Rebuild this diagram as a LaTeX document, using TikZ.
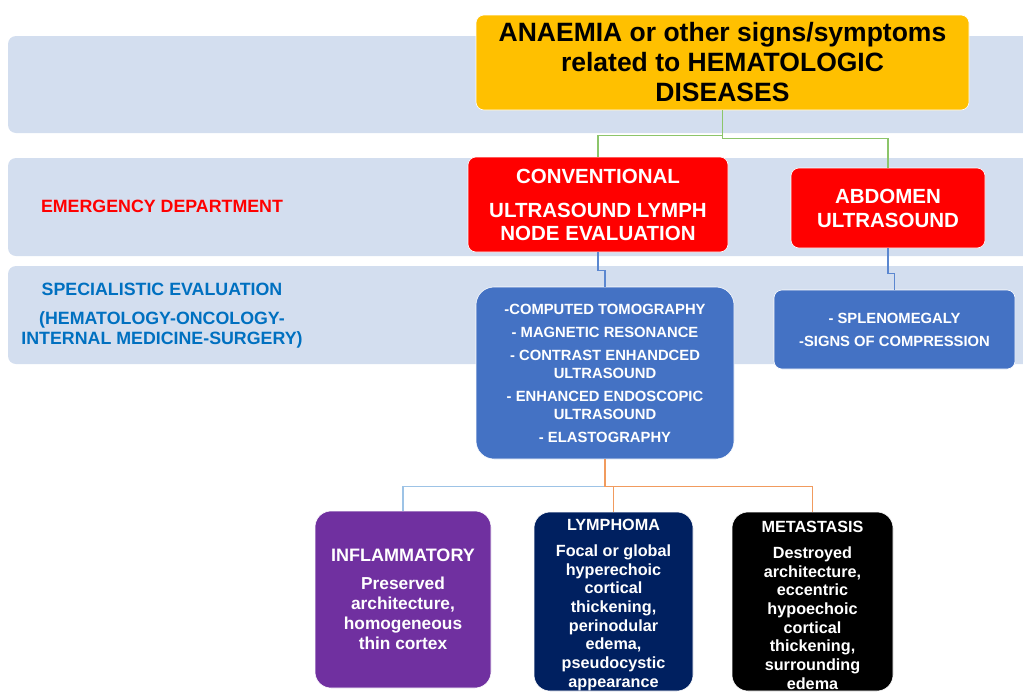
\documentclass[tikz,border=0pt]{standalone}
\usepackage{fontspec}
\setmainfont{Liberation Sans}
\definecolor{bandc}{HTML}{D3DEEF}
\definecolor{topc}{HTML}{FFC000}
\definecolor{redc}{HTML}{FF0000}
\definecolor{bluec}{HTML}{4472C4}
\definecolor{purplec}{HTML}{7030A0}
\definecolor{navyc}{HTML}{002060}
\definecolor{greenc}{HTML}{8CC56A}
\definecolor{orangec}{HTML}{F19B5E}
\definecolor{lbluec}{HTML}{9DC3E6}
\definecolor{lblue2c}{HTML}{5B87D0}
\definecolor{specc}{HTML}{0070C0}
\tikzset{
  box/.style={draw=white, line width=0.6pt, inner sep=0pt, align=center},
  topbox/.style={box, fill=topc, rounded corners=8pt, text=black},
  redbox/.style={box, fill=redc, rounded corners=8pt, text=white},
  bluebox/.style={box, fill=bluec, text=white},
  outbox/.style={box, rounded corners=16pt, text=white},
  band/.style={fill=bandc, rounded corners=8pt},
  gline/.style={draw=greenc, line width=1.4pt},
  bline/.style={draw=lblue2c, line width=1.4pt},
  oline/.style={draw=orangec, line width=1.4pt},
  lbline/.style={draw=lbluec, line width=1.4pt},
}
\begin{document}
\begin{tikzpicture}[x=1pt,y=-1pt]
\useasboundingbox (0,0) rectangle (1023,691);
\clip (0,0) rectangle (1023,691);
% bands
\fill[band] (8,36) rectangle (1045,133);
\fill[band] (8,158) rectangle (1045,256);
\fill[band] (8,266) rectangle (1045,364);
% left labels
\node[font=\bfseries\fontsize{17.8}{20}\selectfont, text=redc] (ed) at (162,206) {EMERGENCY DEPARTMENT};
\node[font=\bfseries\fontsize{17.8}{20}\selectfont, text=specc, align=center] (spec) at (162,315.5)
  {SPECIALISTIC EVALUATION\\[9pt](HEMATOLOGY-ONCOLOGY-\\INTERNAL MEDICINE-SURGERY)};
% boxes
\node[topbox, font=\bfseries\fontsize{26.5}{30}\selectfont, minimum width=493pt, minimum height=95pt] (top) at (722.5,62.5)
  {ANAEMIA or other signs/symptoms\\related to HEMATOLOGIC\\DISEASES};
\node[redbox, font=\bfseries\fontsize{20.5}{23}\selectfont, minimum width=260pt, minimum height=95pt] (conv) at (598,204.5)
  {CONVENTIONAL\\[11pt]ULTRASOUND LYMPH\\NODE EVALUATION};
\node[redbox, font=\bfseries\fontsize{20.5}{24}\selectfont, minimum width=194pt, minimum height=80pt] (abd) at (888,208)
  {ABDOMEN\\ULTRASOUND};
\node[bluebox, font=\bfseries\fontsize{14.8}{18}\selectfont, rounded corners=18pt, minimum width=258pt, minimum height=172pt] (ct) at (605,373)
  {-COMPUTED TOMOGRAPHY\\[5pt]- MAGNETIC RESONANCE\\[5pt]- CONTRAST ENHANDCED\\ULTRASOUND\\[5pt]- ENHANCED ENDOSCOPIC\\ULTRASOUND\\[5pt]- ELASTOGRAPHY};
\node[bluebox, font=\bfseries\fontsize{14.8}{23}\selectfont, rounded corners=8pt, minimum width=241pt, minimum height=79pt] (spl) at (894.5,329.5)
  {- SPLENOMEGALY\\-SIGNS OF COMPRESSION};
\node[outbox, fill=purplec, font=\bfseries\fontsize{17.3}{20}\selectfont, minimum width=176pt, minimum height=177pt] (inf) at (403,599.5)
  {{\fontsize{18}{20}\selectfont INFLAMMATORY}\\[8pt]Preserved\\architecture,\\homogeneous\\thin cortex};
\node[outbox, fill=navyc, font=\bfseries\fontsize{16.2}{18.7}\selectfont, minimum width=159pt, minimum height=179pt] (lym) at (613.5,601.5)
  {\rule{0pt}{18pt}LYMPHOMA\\[7.3pt]Focal or global\\hyperechoic\\cortical\\thickening,\\perinodular\\edema,\\pseudocystic\\appearance};
\node[outbox, fill=black, font=\bfseries\fontsize{16.2}{18.7}\selectfont, minimum width=161pt, minimum height=179pt] (met) at (812.5,601.5)
  {\rule{0pt}{19pt}METASTASIS\\[7.3pt]Destroyed\\architecture,\\eccentric\\hypoechoic\\cortical\\thickening,\\surrounding\\edema};
% connectors
\draw[gline] (top.south) -- ++(0,25) -| (conv.north);
\draw[gline] (top.south) -- ++(0,28) -| (abd.north);
\draw[bline] (conv.south) -- ++(0,18) -| (ct.north);
\draw[bline] (abd.south) -- ++(0,25) -| (spl.north);
\path (ct.south) ++(0,27) coordinate (split);
\draw[lbline] (split) -| (inf.north);
\draw[oline] (ct.south) -- (split) -| (lym.north);
\draw[oline] (split) -| (met.north);
\end{tikzpicture}
\end{document}
